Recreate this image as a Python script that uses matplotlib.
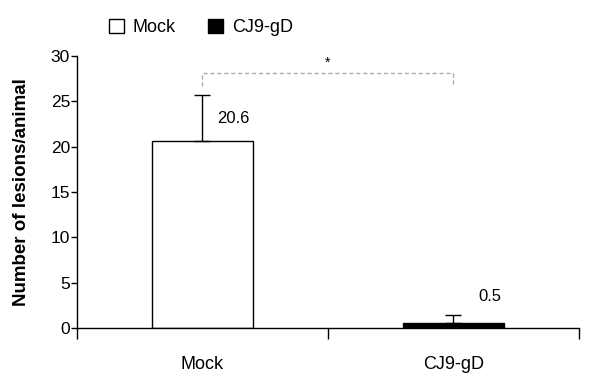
import matplotlib
matplotlib.use("Agg")
import matplotlib.pyplot as plt
from matplotlib.patches import Patch

# values
groups = ["Mock", "CJ9-gD"]
means = [20.6, 0.5]
errors = [5.1, 0.9]
value_labels = ["20.6", "0.5"]
bar_colors = ["white", "black"]

plt.rcParams['font.family'] = ['Liberation Sans', 'DejaVu Sans']

fig = plt.figure(figsize=(6, 3.87), dpi=100)
ax = fig.add_axes([0.1283, 0.1525, 0.8367, 0.7025])

centers = [i + 0.5 for i in range(len(groups))]
ax.bar(centers, means, width=0.4, color=bar_colors, edgecolor="black", linewidth=1)
# upper error bars only
ax.errorbar(centers, means, yerr=[[0, 0], errors], fmt="none", ecolor="black",
            elinewidth=1, capsize=6, capthick=1)

# value labels next to the bars
ax.text(centers[0] + 0.06, means[0] + 2.5, value_labels[0], fontsize=12, ha="left", va="center")
ax.text(centers[1] + 0.1, means[1] + 3.0, value_labels[1], fontsize=12, ha="left", va="center")

# significance bracket
top = 28.1
ax.plot([centers[0], centers[0], centers[1], centers[1]], [26.7, top, top, 26.7],
        color="#aaaaaa", linestyle=(0, (3, 2)), linewidth=1)
ax.text((centers[0] + centers[1]) / 2, top + 1.2, "*", ha="center", va="center", fontsize=10)

ax.set_xlim(0, 2)
ax.set_ylim(0, 30)
ax.set_yticks(range(0, 31, 5))
ax.tick_params(axis="y", labelsize=12.5, length=4, width=1, pad=1)
ax.set_xticks([0, 1, 2])
ax.set_xticklabels([])
ax.set_xticks(centers, minor=True)
ax.set_xticklabels(groups, minor=True)
ax.tick_params(axis="x", which="major", length=8, width=1, direction="out")
ax.tick_params(axis="x", which="minor", length=0, labelsize=13, pad=20)
for side in ["top", "right"]:
    ax.spines[side].set_visible(False)
ax.spines["left"].set_linewidth(1)
ax.spines["bottom"].set_linewidth(1)

ax.set_ylabel("Number of lesions/animal", fontsize=13.5, fontweight="bold", labelpad=15)

handles = [Patch(facecolor=c, edgecolor="black", linewidth=1) for c in bar_colors]
fig.legend(handles, groups, loc="center left", bbox_to_anchor=(0.182, 0.928), ncol=2,
           frameon=False, fontsize=13, handlelength=0.8, handleheight=0.8,
           handletextpad=0.5, columnspacing=1.8, borderaxespad=0, borderpad=0)

fig.savefig("out.png", dpi=100)
